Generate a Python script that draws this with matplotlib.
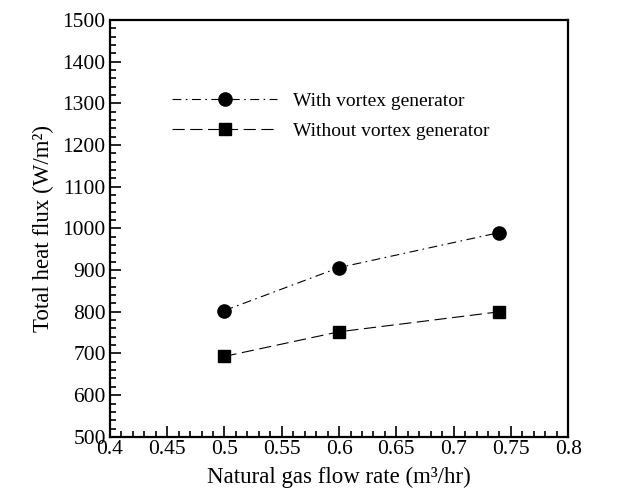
import matplotlib
matplotlib.use('Agg')
import matplotlib.pyplot as plt
from matplotlib.ticker import MultipleLocator

plt.rcParams['font.family'] = 'Liberation Serif'

# data
flow = [0.5, 0.6, 0.74]
with_vg = [803, 906, 990]
without_vg = [693, 752, 800]

fig = plt.figure(figsize=(6.21, 4.97), dpi=100)
ax = fig.add_axes([0.177, 0.121, 0.738, 0.839])

ax.plot(flow, with_vg, color='black', lw=0.8, ls=(0, (8, 4, 1.5, 4)),
        marker='o', ms=9.5, label='With vortex generator')
ax.plot(flow, without_vg, color='black', lw=0.8, ls=(0, (11, 5)),
        marker='s', ms=8.5, label='Without vortex generator')

ax.set_xlim(0.4, 0.8)
ax.set_ylim(500, 1500)
ax.xaxis.set_major_locator(MultipleLocator(0.05))
ax.xaxis.set_minor_locator(MultipleLocator(0.01))
ax.yaxis.set_major_locator(MultipleLocator(100))
ax.yaxis.set_minor_locator(MultipleLocator(20))
ax.xaxis.set_major_formatter(plt.FuncFormatter(lambda v, p: f'{v:.2f}'.rstrip('0').rstrip('.')))

ax.tick_params(which='both', direction='in', top=False, right=False, width=1.2, labelsize=15.5)
ax.tick_params(which='major', length=8, pad=3)
ax.tick_params(which='minor', length=4)
ax.tick_params(axis='x', pad=2)
for s in ax.spines.values():
    s.set_linewidth(1.6)

ax.set_xlabel('Natural gas flow rate (m³/hr)', fontsize=16.5, labelpad=6)
ax.set_ylabel('Total heat flux (W/m²)', fontsize=16.5, labelpad=6)

ax.legend(loc='upper left', bbox_to_anchor=(0.098, 0.868), frameon=False,
          fontsize=14, handlelength=5.4, numpoints=1, handletextpad=0.8,
          labelspacing=0.65)

plt.savefig('out.png', dpi=100)
